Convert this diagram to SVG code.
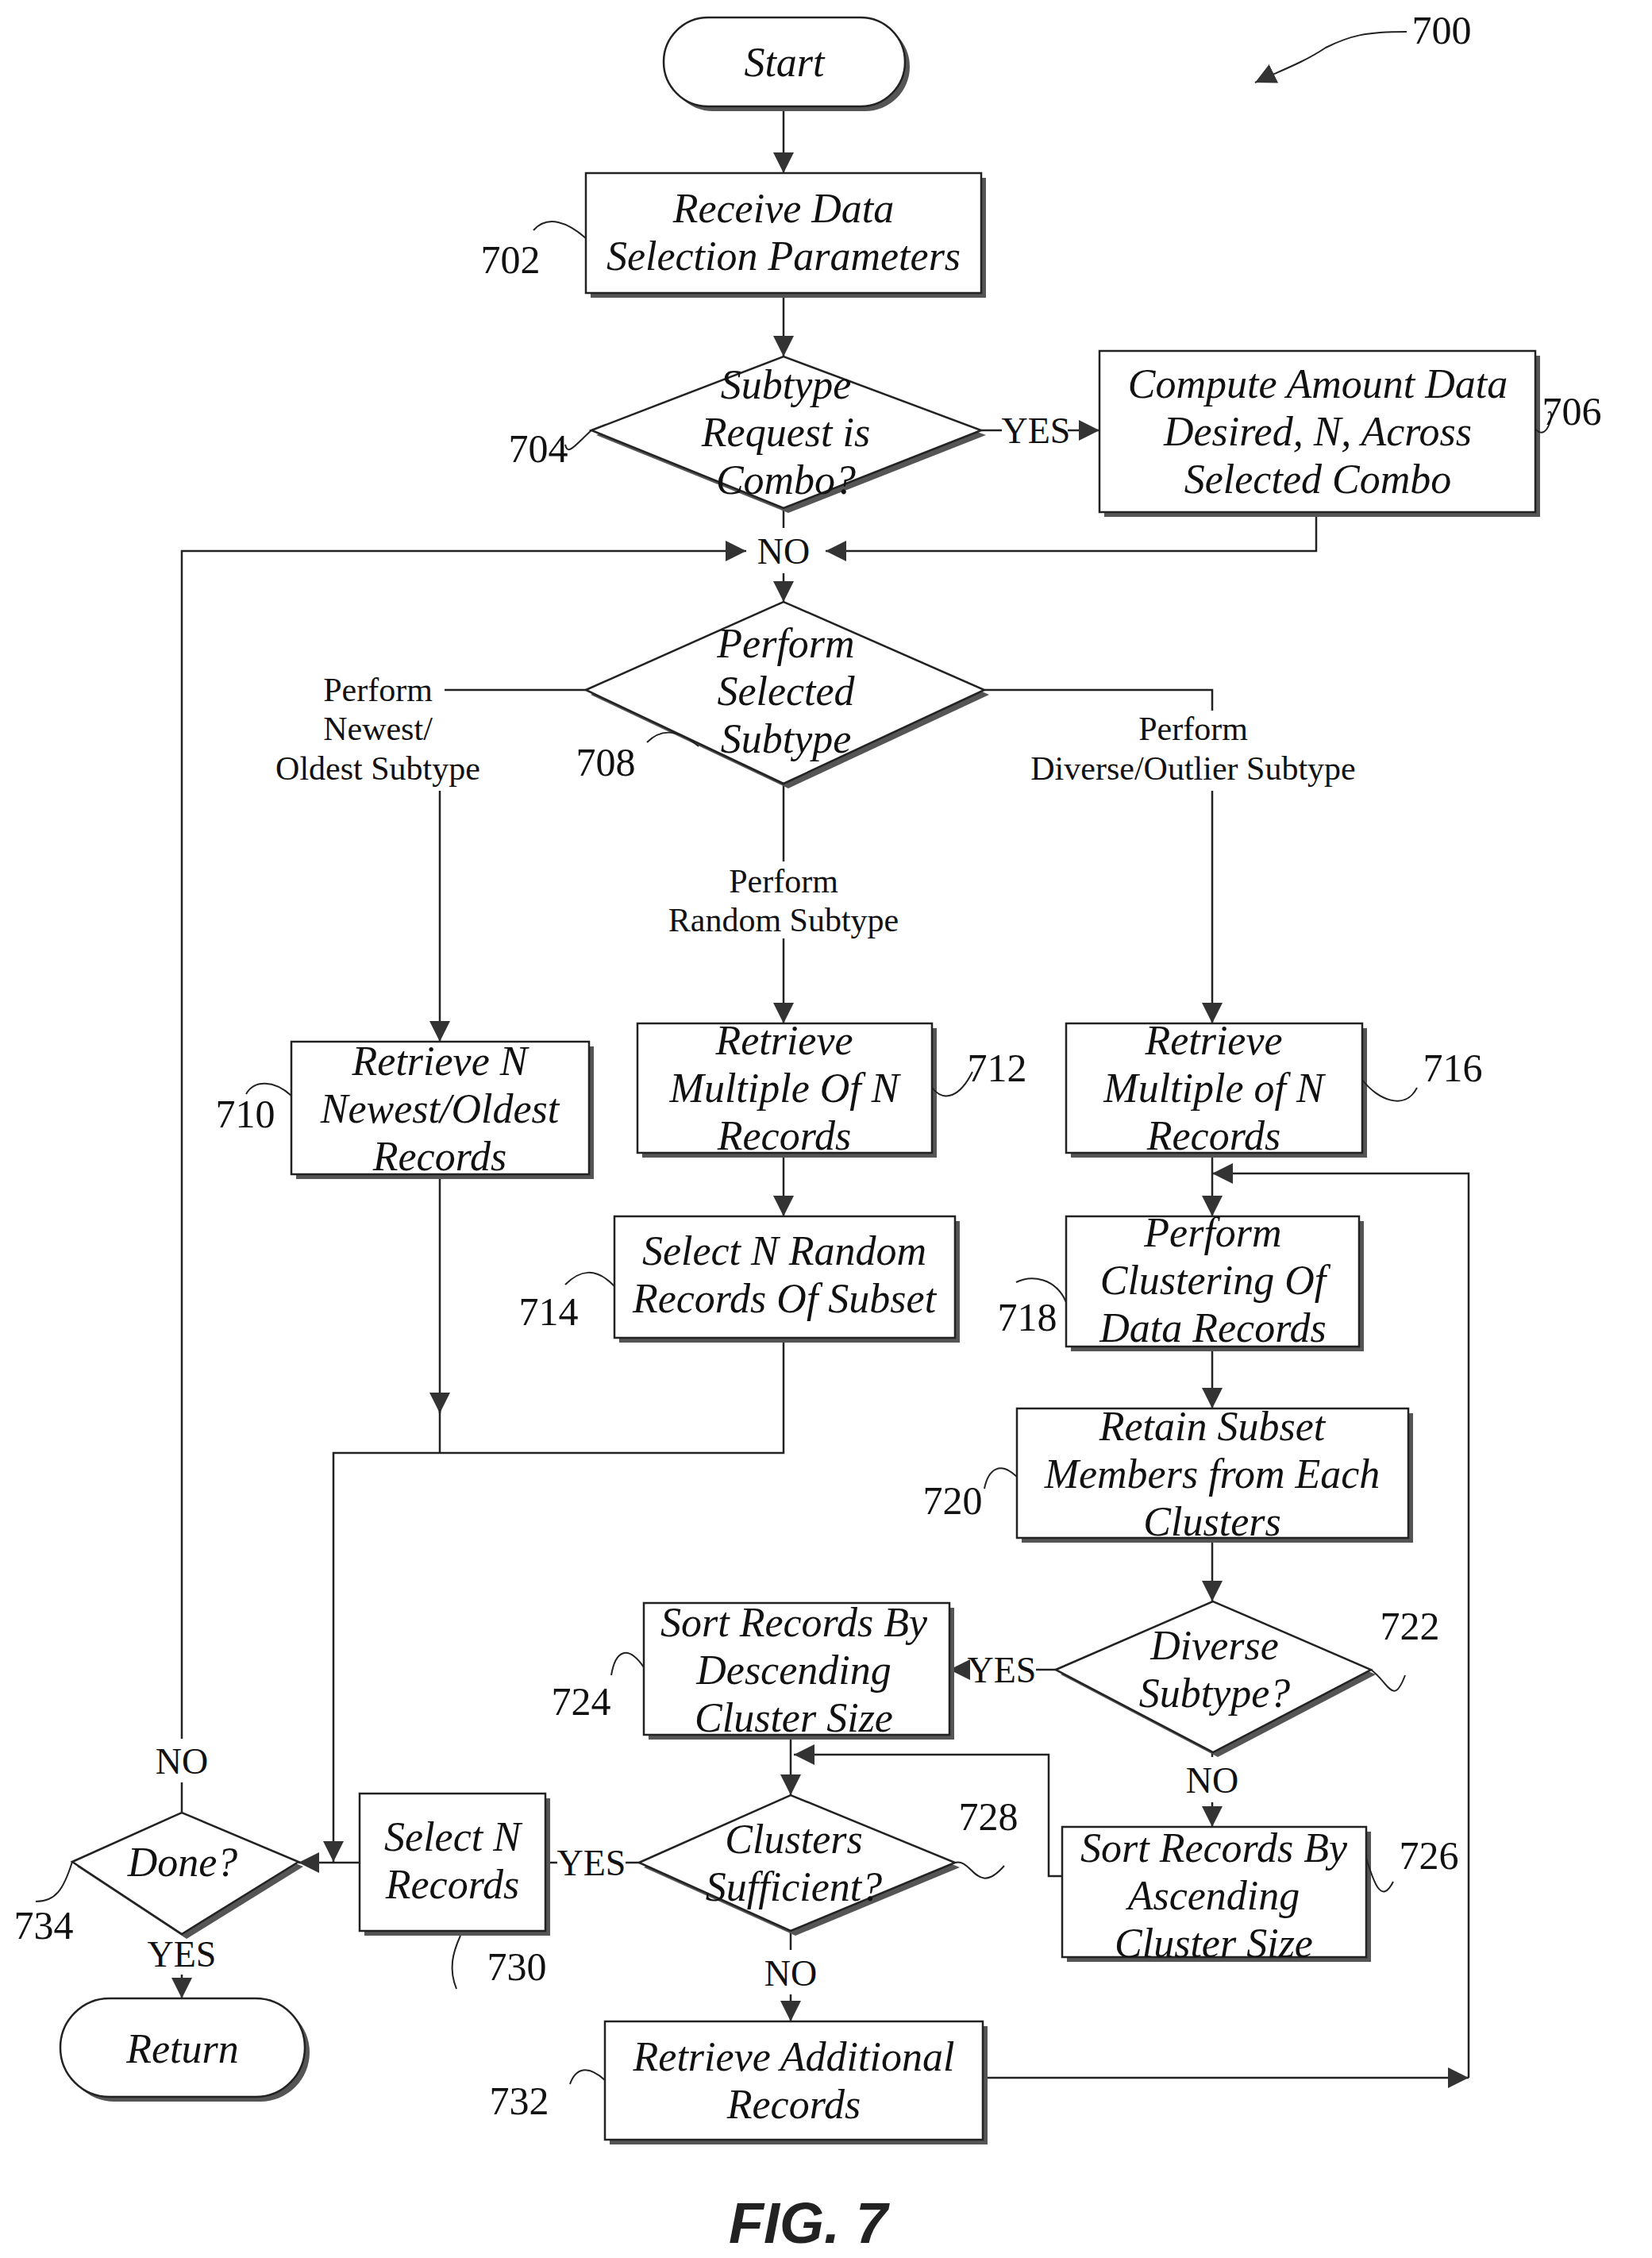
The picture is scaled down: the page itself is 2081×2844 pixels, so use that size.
<svg xmlns="http://www.w3.org/2000/svg" width="2081" height="2844" viewBox="0 0 2081 2844">
<style>
.s{fill:#555}
.b{fill:#fff;stroke:#222;stroke-width:2.5}
.t{font-family:"Liberation Serif",serif;font-style:italic;font-size:52px;text-anchor:middle;dominant-baseline:central;fill:#111}
.l{font-family:"Liberation Serif",serif;font-size:42px;text-anchor:middle;dominant-baseline:central;fill:#111}
.n{font-family:"Liberation Serif",serif;font-size:50px;text-anchor:middle;dominant-baseline:central;fill:#111}
.c{fill:none;stroke:#222;stroke-width:2.5}
.q{fill:none;stroke:#222;stroke-width:2}
</style>
<defs><marker id="A" viewBox="0 0 10 10" refX="10" refY="5" markerWidth="26" markerHeight="26" markerUnits="userSpaceOnUse" orient="auto"><path d="M0,0L10,5L0,10z" fill="#333"/></marker></defs>
<g id="connectors">
<path class="c" d="M987,134V218" marker-end="url(#A)"/>
<path class="c" d="M987,369V449" marker-end="url(#A)"/>
<path class="c" d="M1236,542H1262"/><path class="c" d="M1345,542H1385" marker-end="url(#A)"/>
<path class="c" d="M987,640V665"/>
<path class="c" d="M1658,645V694H1040" marker-end="url(#A)"/>
<path class="c" d="M229,2283V2245M229,2190V694H940" marker-end="url(#A)"/>
<path class="c" d="M987,722V758" marker-end="url(#A)"/>
<path class="c" d="M738,869H560"/><path class="c" d="M554,996V1312" marker-end="url(#A)"/>
<path class="c" d="M1240,869H1527V895"/><path class="c" d="M1527,996V1289" marker-end="url(#A)"/>
<path class="c" d="M987,980V1085"/><path class="c" d="M987,1182V1289" marker-end="url(#A)"/>
<path class="c" d="M987,1452V1532" marker-end="url(#A)"/>
<path class="c" d="M1527,1452V1532" marker-end="url(#A)"/>
<path class="c" d="M1527,1696V1774" marker-end="url(#A)"/>
<path class="c" d="M1527,1937V2017" marker-end="url(#A)"/>
<path class="c" d="M554,1479V1780" marker-end="url(#A)"/><path class="c" d="M554,1775V1830"/>
<path class="c" d="M987,1685V1830H420V2345" marker-end="url(#A)"/>
<path class="c" d="M1330,2103H1305"/><path class="c" d="M1218,2103H1196" marker-end="url(#A)"/>
<path class="c" d="M1527,2207V2213"/><path class="c" d="M1527,2270V2301" marker-end="url(#A)"/>
<path class="c" d="M996,2185V2261" marker-end="url(#A)"/>
<path class="c" d="M1338,2363H1321V2210H1000" marker-end="url(#A)"/>
<path class="c" d="M805,2346H788"/><path class="c" d="M702,2346H687"/>
<path class="c" d="M453,2346H376" marker-end="url(#A)"/>
<path class="c" d="M996,2432V2456"/><path class="c" d="M996,2512V2546" marker-end="url(#A)"/>
<path class="c" d="M229,2487V2517" marker-end="url(#A)"/>
<path class="c" d="M1238,2617H1850" marker-end="url(#A)"/>
<path class="c" d="M1850,2617V1478H1527" marker-end="url(#A)"/>
<path class="q" d="M1772,40C1720,40 1700,45 1670,60C1640,80 1610,90 1581,104" marker-end="url(#A)"/>
</g>
<g id="start"><rect class="s" x="842" y="28" width="304" height="112" rx="56"/><rect class="b" x="836" y="22" width="304" height="112" rx="56"/><text class="t" x="988" y="78">Start</text></g>
<g id="n702"><rect class="s" x="744" y="224" width="498" height="151"/><rect class="b" x="738" y="218" width="498" height="151"/><text class="t" x="987" y="262">Receive Data</text><text class="t" x="987" y="322">Selection Parameters</text><path class="q" d="M738,300C715,280 690,270 672,290"/><text class="n" x="643" y="327">702</text></g>
<g id="n704"><path class="s" d="M751,548L993,455L1242,548L993,646z"/><path class="b" d="M745,542L987,449L1236,542L987,640z"/><text class="t" x="990" y="484">Subtype</text><text class="t" x="990" y="544">Request is</text><text class="t" x="990" y="604">Combo?</text><path class="q" d="M745,542C725,560 715,575 712,560"/><text class="n" x="678" y="565">704</text></g>
<text class="l" x="1305" y="542" style="font-size:46px">YES</text>
<g id="n706"><rect class="s" x="1391" y="448" width="549" height="203"/><rect class="b" x="1385" y="442" width="549" height="203"/><text class="t" x="1660" y="483">Compute Amount Data</text><text class="t" x="1660" y="543">Desired, N, Across</text><text class="t" x="1660" y="603">Selected Combo</text><path class="q" d="M1934,540C1950,560 1960,510 1950,520"/><text class="n" x="1980" y="518">706</text></g>
<text class="l" x="987" y="694" style="font-size:46px">NO</text>
<g id="n708"><path class="s" d="M744,875L993,764L1246,875L993,993z"/><path class="b" d="M738,869L987,758L1240,869L987,987z"/><text class="t" x="990" y="810">Perform</text><text class="t" x="990" y="870">Selected</text><text class="t" x="990" y="930">Subtype</text><path class="q" d="M880,940C850,915 830,920 815,935"/><text class="n" x="763" y="960">708</text></g>
<text class="l" x="476" y="869">Perform</text><text class="l" x="476" y="918">Newest/</text><text class="l" x="476" y="968">Oldest Subtype</text>
<text class="l" x="1503" y="918">Perform</text><text class="l" x="1503" y="968">Diverse/Outlier Subtype</text>
<text class="l" x="987" y="1110">Perform</text><text class="l" x="987" y="1159">Random Subtype</text>
<g id="n710"><rect class="s" x="373" y="1318" width="375" height="167"/><rect class="b" x="367" y="1312" width="375" height="167"/><text class="t" x="554" y="1336">Retrieve N</text><text class="t" x="554" y="1396">Newest/Oldest</text><text class="t" x="554" y="1456">Records</text><path class="q" d="M367,1380C345,1360 320,1360 310,1378"/><text class="n" x="309" y="1403">710</text></g>
<g id="n712"><rect class="s" x="809" y="1295" width="371" height="163"/><rect class="b" x="803" y="1289" width="371" height="163"/><text class="t" x="988" y="1310">Retrieve</text><text class="t" x="988" y="1370">Multiple Of N</text><text class="t" x="988" y="1430">Records</text><path class="q" d="M1174,1370C1190,1390 1210,1380 1225,1350"/><text class="n" x="1256" y="1345">712</text></g>
<g id="n716"><rect class="s" x="1349" y="1295" width="373" height="163"/><rect class="b" x="1343" y="1289" width="373" height="163"/><text class="t" x="1529" y="1310">Retrieve</text><text class="t" x="1529" y="1370">Multiple of N</text><text class="t" x="1529" y="1430">Records</text><path class="q" d="M1716,1360C1735,1385 1770,1400 1785,1370"/><text class="n" x="1830" y="1345">716</text></g>
<g id="n714"><rect class="s" x="780" y="1538" width="429" height="153"/><rect class="b" x="774" y="1532" width="429" height="153"/><text class="t" x="988" y="1575">Select N Random</text><text class="t" x="988" y="1635">Records Of Subset</text><path class="q" d="M774,1620C750,1595 730,1600 712,1618"/><text class="n" x="691" y="1652">714</text></g>
<g id="n718"><rect class="s" x="1349" y="1538" width="369" height="164"/><rect class="b" x="1343" y="1532" width="369" height="164"/><text class="t" x="1528" y="1552">Perform</text><text class="t" x="1528" y="1612">Clustering Of</text><text class="t" x="1528" y="1672">Data Records</text><path class="q" d="M1343,1640C1330,1610 1300,1605 1280,1615"/><text class="n" x="1294" y="1659">718</text></g>
<g id="n720"><rect class="s" x="1287" y="1780" width="493" height="163"/><rect class="b" x="1281" y="1774" width="493" height="163"/><text class="t" x="1527" y="1796">Retain Subset</text><text class="t" x="1527" y="1856">Members from Each</text><text class="t" x="1527" y="1916">Clusters</text><path class="q" d="M1281,1860C1260,1840 1245,1850 1240,1875"/><text class="n" x="1200" y="1890">720</text></g>
<g id="n722"><path class="s" d="M1336,2109L1534,2023L1733,2109L1534,2213z"/><path class="b" d="M1330,2103L1528,2017L1727,2103L1528,2207z"/><text class="t" x="1530" y="2072">Diverse</text><text class="t" x="1530" y="2132">Subtype?</text><path class="q" d="M1727,2103C1750,2120 1755,2150 1770,2110"/><text class="n" x="1776" y="2048">722</text></g>
<text class="l" x="1262" y="2103" style="font-size:46px">YES</text>
<text class="l" x="1527" y="2242" style="font-size:46px">NO</text>
<g id="n724"><rect class="s" x="817" y="2025" width="385" height="166"/><rect class="b" x="811" y="2019" width="385" height="166"/><text class="t" x="1000" y="2043">Sort Records By</text><text class="t" x="1000" y="2103">Descending</text><text class="t" x="1000" y="2163">Cluster Size</text><path class="q" d="M811,2100C790,2070 775,2080 770,2110"/><text class="n" x="732" y="2143">724</text></g>
<g id="n726"><rect class="s" x="1344" y="2307" width="383" height="164"/><rect class="b" x="1338" y="2301" width="383" height="164"/><text class="t" x="1529" y="2327">Sort Records By</text><text class="t" x="1529" y="2387">Ascending</text><text class="t" x="1529" y="2447">Cluster Size</text><path class="q" d="M1721,2340C1730,2370 1740,2400 1755,2370"/><text class="n" x="1800" y="2337">726</text></g>
<g id="n728"><path class="s" d="M811,2352L1002,2267L1209,2352L1002,2438z"/><path class="b" d="M805,2346L996,2261L1203,2346L996,2432z"/><text class="t" x="1000" y="2316">Clusters</text><text class="t" x="1000" y="2376">Sufficient?</text><path class="q" d="M1203,2346C1225,2340 1230,2390 1265,2350"/><text class="n" x="1245" y="2288">728</text></g>
<text class="l" x="745" y="2346" style="font-size:46px">YES</text>
<text class="l" x="996" y="2485" style="font-size:46px">NO</text>
<g id="n730"><rect class="s" x="459" y="2265" width="234" height="173"/><rect class="b" x="453" y="2259" width="234" height="173"/><text class="t" x="570" y="2313">Select N</text><text class="t" x="570" y="2373">Records</text><path class="q" d="M580,2438C570,2460 565,2480 575,2505"/><text class="n" x="651" y="2477">730</text></g>
<g id="n734"><path class="s" d="M97,2351L235,2289L382,2351L235,2442z"/><path class="b" d="M91,2345L229,2283L376,2345L229,2436z"/><text class="t" x="230" y="2345">Done?</text><path class="q" d="M91,2345C80,2380 70,2395 45,2395"/><text class="n" x="55" y="2425">734</text></g>
<text class="l" x="229" y="2218" style="font-size:46px">NO</text>
<text class="l" x="229" y="2461" style="font-size:46px">YES</text>
<g id="ret"><rect class="s" x="82" y="2523" width="308" height="124" rx="62"/><rect class="b" x="76" y="2517" width="308" height="124" rx="62"/><text class="t" x="230" y="2580">Return</text></g>
<g id="n732"><rect class="s" x="768" y="2552" width="476" height="149"/><rect class="b" x="762" y="2546" width="476" height="149"/><text class="t" x="1000" y="2590">Retrieve Additional</text><text class="t" x="1000" y="2650">Records</text><path class="q" d="M762,2620C740,2600 725,2605 718,2625"/><text class="n" x="654" y="2646">732</text></g>
<text class="n" x="1816" y="38">700</text>
<text x="1018" y="2800" style="font-family:'Liberation Sans',sans-serif;font-weight:bold;font-style:italic;font-size:72px;text-anchor:middle;dominant-baseline:central;fill:#222">FIG. 7</text>
</svg>
